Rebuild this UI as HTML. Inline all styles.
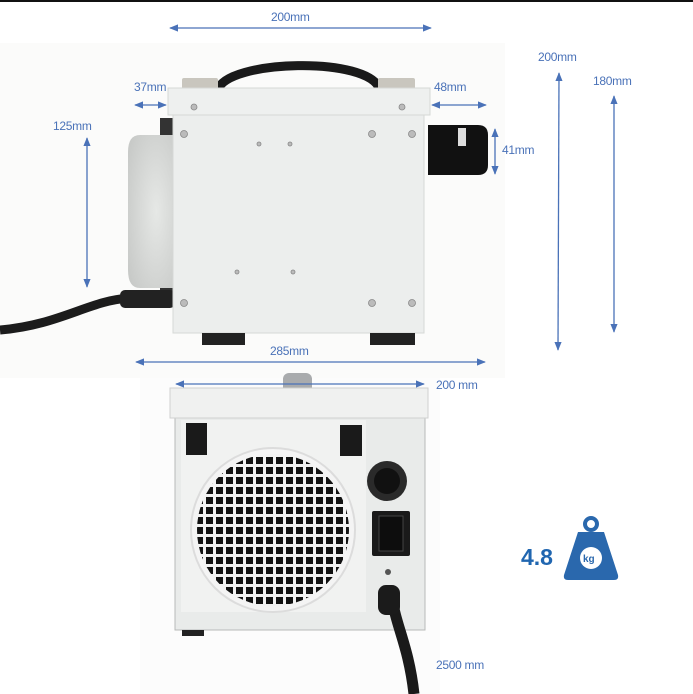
<!DOCTYPE html>
<html><head><meta charset="utf-8"><style>
html,body{margin:0;padding:0;background:#fff;}
svg{display:block}
text{font-family:"Liberation Sans",sans-serif;fill:#4a72b8;font-size:12px;letter-spacing:-0.3px;}
</style></head><body>
<svg width="693" height="694" viewBox="0 0 693 694" xmlns="http://www.w3.org/2000/svg">
<defs>
<marker id="a" viewBox="0 0 10 10" refX="9" refY="5" markerWidth="7" markerHeight="7" orient="auto-start-reverse"><path d="M0,1 L10,5 L0,9 z" fill="#4a72b8"/></marker>
<pattern id="g" width="10" height="10" patternUnits="userSpaceOnUse" x="194" y="455"><rect width="10" height="10" fill="#f2f2f2"/><rect x="2" y="2" width="7" height="7" fill="#111"/></pattern>
<radialGradient id="d" cx="0.6" cy="0.5" r="0.7"><stop offset="0" stop-color="#e6e8e6"/><stop offset="1" stop-color="#c8cac8"/></radialGradient>
</defs>
<rect x="0" y="0" width="693" height="2" fill="#111"/>
<rect x="0" y="43" width="505" height="335" fill="#fbfbfa"/>
<rect x="140" y="378" width="300" height="316" fill="#fcfcfc"/>
<text x="271" y="21">200mm</text>
<line x1="170" y1="28" x2="431" y2="28" stroke="#4a72b8" stroke-width="1.3" marker-start="url(#a)" marker-end="url(#a)"/>
<path d="M218,90 C225,60 370,55 380,90" fill="none" stroke="#1a1a1a" stroke-width="9"/>
<rect x="182" y="78" width="36" height="14" rx="2" fill="#c9c6be"/>
<rect x="378" y="78" width="37" height="14" rx="2" fill="#c9c6be"/>
<path d="M160,118 L175,118 L175,300 L160,300 Z" fill="#333"/>
<path d="M140,135 L175,135 L175,288 L140,288 Q128,288 128,270 L128,152 Q128,135 140,135 Z" fill="url(#d)"/>
<path d="M0,330 C60,325 90,300 130,298" fill="none" stroke="#1c1c1c" stroke-width="9"/>
<rect x="120" y="290" width="55" height="18" rx="5" fill="#222"/>
<rect x="168" y="88" width="262" height="27" fill="#eef0ef" stroke="#d6d8d6"/>
<rect x="173" y="115" width="251" height="218" fill="#eceeed" stroke="#d6d8d6"/>
<rect x="202" y="333" width="43" height="12" fill="#222"/>
<rect x="370" y="333" width="45" height="12" fill="#222"/>
<path d="M428,125 L478,125 Q488,125 488,135 L488,165 Q488,175 478,175 L428,175 Z" fill="#111"/>
<rect x="458" y="128" width="8" height="18" fill="#ddd"/>
<g fill="#bbb" stroke="#888" stroke-width="0.8">
<circle cx="194" cy="107" r="3"/><circle cx="402" cy="107" r="3"/>
<circle cx="184" cy="134" r="3.5"/><circle cx="372" cy="134" r="3.5"/><circle cx="412" cy="134" r="3.5"/>
<circle cx="184" cy="303" r="3.5"/><circle cx="372" cy="303" r="3.5"/><circle cx="412" cy="303" r="3.5"/>
<circle cx="259" cy="144" r="2"/><circle cx="290" cy="144" r="2"/><circle cx="237" cy="272" r="2"/><circle cx="293" cy="272" r="2"/>
</g>
<text x="134" y="91">37mm</text>
<line x1="135" y1="105" x2="166" y2="105" stroke="#4a72b8" stroke-width="1.3" marker-start="url(#a)" marker-end="url(#a)"/>
<text x="434" y="91">48mm</text>
<line x1="432" y1="105" x2="486" y2="105" stroke="#4a72b8" stroke-width="1.3" marker-start="url(#a)" marker-end="url(#a)"/>
<text x="53" y="130">125mm</text>
<line x1="87" y1="138" x2="87" y2="287" stroke="#4a72b8" stroke-width="1.3" marker-start="url(#a)" marker-end="url(#a)"/>
<text x="502" y="154">41mm</text>
<line x1="495" y1="129" x2="495" y2="174" stroke="#4a72b8" stroke-width="1.3" marker-start="url(#a)" marker-end="url(#a)"/>
<text x="538" y="61">200mm</text>
<line x1="559" y1="73" x2="558" y2="350" stroke="#4a72b8" stroke-width="1.3" marker-start="url(#a)" marker-end="url(#a)"/>
<text x="593" y="85">180mm</text>
<line x1="614" y1="96" x2="614" y2="332" stroke="#4a72b8" stroke-width="1.3" marker-start="url(#a)" marker-end="url(#a)"/>
<text x="270" y="355">285mm</text>
<line x1="136" y1="362" x2="485" y2="362" stroke="#4a72b8" stroke-width="1.3" marker-start="url(#a)" marker-end="url(#a)"/>
<rect x="283" y="373" width="29" height="20" rx="6" fill="#a9abad"/>
<rect x="175" y="417" width="250" height="213" fill="#e9ebea" stroke="#b8bab9"/>
<rect x="181" y="420" width="185" height="192" fill="#f1f2f1"/>
<rect x="170" y="388" width="258" height="30" fill="#f0f1f0" stroke="#cfd1d0"/>
<rect x="186" y="423" width="21" height="32" fill="#1a1a1a"/>
<rect x="340" y="425" width="22" height="31" fill="#1a1a1a"/>
<circle cx="273" cy="530" r="82" fill="#f4f4f4" stroke="#dcdcdc" stroke-width="2"/>
<circle cx="273" cy="530" r="76" fill="url(#g)"/>
<circle cx="387" cy="481" r="20" fill="#2a2a2a"/>
<circle cx="387" cy="481" r="13" fill="#111"/>
<rect x="372" y="511" width="38" height="45" rx="2" fill="#1a1a1a"/>
<rect x="379" y="516" width="24" height="35" fill="#0d0d0d" stroke="#444"/>
<circle cx="388" cy="572" r="3" fill="#555"/>
<rect x="182" y="630" width="22" height="6" fill="#222"/>
<path d="M392,590 C392,620 408,640 414,694" fill="none" stroke="#1a1a1a" stroke-width="11"/>
<rect x="378" y="585" width="22" height="30" rx="8" fill="#1b1b1b"/>
<text x="436" y="389">200 mm</text>
<line x1="176" y1="384" x2="424" y2="384" stroke="#4a72b8" stroke-width="1.3" marker-start="url(#a)" marker-end="url(#a)"/>
<text x="436" y="669">2500 mm</text>
<text x="521" y="565" style="font-size:23px;font-weight:bold;fill:#2066b0;letter-spacing:0">4.8</text>
<circle cx="591" cy="524" r="6" fill="none" stroke="#2a68ad" stroke-width="4"/>
<path d="M578,532 L604,532 L618,575 Q619,580 614,580 L568,580 Q563,580 564,575 Z" fill="#2a68ad"/>
<circle cx="591" cy="558" r="11" fill="#fff"/>
<text x="583" y="562" style="font-size:10px;font-weight:bold;fill:#2a68ad;letter-spacing:0">kg</text>
</svg>
</body></html>
